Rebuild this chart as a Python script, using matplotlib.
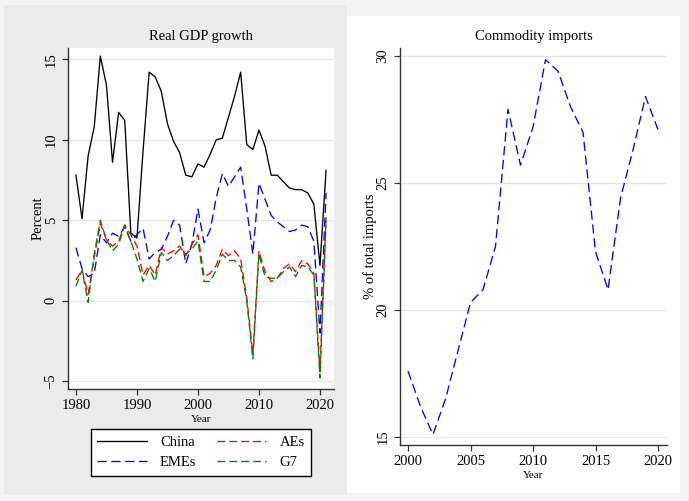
import matplotlib

matplotlib.use("Agg")

import matplotlib.pyplot as plt
from matplotlib.patches import Rectangle


# left panel: real GDP growth, percent
years = list(range(1980, 2022))
china = [7.8, 5.1, 9.0, 10.8, 15.2, 13.4, 8.6, 11.7, 11.2, 4.2,
         3.9, 9.3, 14.2, 13.9, 13.0, 11.0, 9.9, 9.2, 7.8, 7.7,
         8.5, 8.3, 9.1, 10.0, 10.1, 11.4, 12.7, 14.2, 9.7, 9.4,
         10.6, 9.6, 7.8, 7.8, 7.4, 7.0, 6.9, 6.9, 6.7, 6.0,
         2.2, 8.1]
emes = [3.3, 2.0, 1.5, 1.7, 4.1, 3.6, 4.2, 4.0, 4.6, 3.7,
        4.1, 4.5, 2.6, 3.0, 3.2, 4.0, 5.0, 4.7, 2.3, 3.5,
        5.7, 3.6, 4.4, 6.4, 7.9, 7.1, 7.7, 8.3, 5.7, 2.9,
        7.3, 6.3, 5.3, 4.9, 4.6, 4.3, 4.4, 4.7, 4.6, 3.7,
        -2.0, 6.7]
aes = [1.3, 1.9, 0.4, 2.7, 4.8, 3.8, 3.4, 3.7, 4.7, 4.1,
       3.4, 1.6, 2.2, 1.6, 3.3, 2.9, 3.1, 3.4, 2.8, 3.5,
       4.1, 1.5, 1.7, 2.2, 3.2, 2.8, 3.1, 2.6, 0.2, -3.3,
       3.1, 1.8, 1.2, 1.4, 2.0, 2.3, 1.8, 2.5, 2.3, 1.7,
       -4.4, 5.2]
g7 = [0.9, 1.9, -0.1, 2.9, 5.0, 3.8, 3.1, 3.5, 4.7, 3.7,
      2.6, 1.2, 2.0, 1.2, 3.0, 2.5, 2.8, 3.2, 2.9, 3.2,
      3.7, 1.2, 1.2, 1.9, 2.9, 2.5, 2.5, 2.1, 0.0, -3.6,
      2.9, 1.5, 1.4, 1.4, 1.8, 2.1, 1.5, 2.2, 2.1, 1.6,
      -4.8, 5.0]

# right panel: commodity imports, % of total imports
imp_years = list(range(2000, 2021))
imports = [17.6, 16.2, 15.1, 16.5, 18.4, 20.3, 20.8, 22.5, 27.9, 25.7,
           27.2, 29.85, 29.4, 28.0, 27.0, 22.3, 20.8, 24.4, 26.3, 28.4,
           27.1]

W, H = 689, 501


def fx(px):
    return px / W


def fy(py):
    return 1 - py / H


def style_axes(ax, yticks):
    ax.set_facecolor("white")
    for side in ("top", "right"):
        ax.spines[side].set_visible(False)
    for side in ("left", "bottom"):
        ax.spines[side].set_color("#333333")
        ax.spines[side].set_linewidth(1.0)
    ax.set_yticks(yticks)
    ax.grid(axis="y", color="#e6e6e6", lw=1.0)
    ax.set_axisbelow(True)
    ax.tick_params(length=4, width=0.9, color="#333333", labelsize=10.5)
    for lab in ax.get_yticklabels():
        lab.set_rotation(90)
        lab.set_va("center")


def main():
    plt.rcParams.update({"font.family": "Liberation Serif"})
    fig = plt.figure(figsize=(6.89, 5.01), dpi=100, facecolor="#f4f4f4")

    # panel backgrounds
    fig.patches.append(Rectangle((fx(4), fy(495)), fx(343), 490 / H,
                                 transform=fig.transFigure, facecolor="#ebebeb",
                                 edgecolor="none", zorder=-5))
    fig.patches.append(Rectangle((fx(347), fy(493)), fx(333), 477 / H,
                                 transform=fig.transFigure, facecolor="white",
                                 edgecolor="none", zorder=-5))

    # left
    ax = fig.add_axes([fx(68), fy(389), fx(266), 341 / H])
    style_axes(ax, [-5, 0, 5, 10, 15])
    ax.plot(years, china, color="black", lw=0.95, label="China")
    ax.plot(years, emes, color="blue", lw=0.95, dashes=(7, 3.5), label="EMEs")
    ax.plot(years, aes, color="red", lw=0.95, dashes=(6, 3), label="AEs")
    ax.plot(years, g7, color="green", lw=0.95, dashes=(6, 3), label="G7")
    ax.set_xlim(1978.7, 2022.3)
    ax.set_ylim(-5.48, 15.7)
    ax.set_xticks([1980, 1990, 2000, 2010, 2020])
    ax.set_title("Real GDP growth", fontsize=10.5, pad=6)
    ax.set_ylabel("Percent", fontsize=10.5, labelpad=0)
    ax.set_xlabel("Year", fontsize=8, labelpad=2)

    h, l = ax.get_legend_handles_labels()
    leg = fig.legend(h, l, ncol=2,
                     loc="center", bbox_to_anchor=(fx(201), fy(452.5)),
                     frameon=True, fancybox=False, edgecolor="black",
                     fontsize=10.5, handlelength=3.4, handletextpad=0.9,
                     columnspacing=1.4, borderpad=0.45, labelspacing=0.45)
    leg.get_frame().set_linewidth(1.0)
    leg.get_frame().set_facecolor("white")
    leg.get_frame().set_alpha(1.0)
    for t in leg.get_texts()[2:]:
        t.set_ha("right")

    # right
    ax2 = fig.add_axes([fx(400), fy(445), fx(267), 397 / H])
    style_axes(ax2, [15, 20, 25, 30])
    ax2.plot(imp_years, imports, color="blue", lw=0.95, dashes=(7, 3.5))
    ax2.set_xlim(1999.36, 2020.72)
    ax2.set_ylim(14.69, 30.31)
    ax2.set_xticks([2000, 2005, 2010, 2015, 2020])
    ax2.set_title("Commodity imports", fontsize=10.5, pad=6)
    ax2.set_ylabel("% of total imports", fontsize=10.5, labelpad=0)
    ax2.set_xlabel("Year", fontsize=8, labelpad=2)

    fig.savefig("out.png", dpi=100, facecolor=fig.get_facecolor())


if __name__ == "__main__":
    main()
